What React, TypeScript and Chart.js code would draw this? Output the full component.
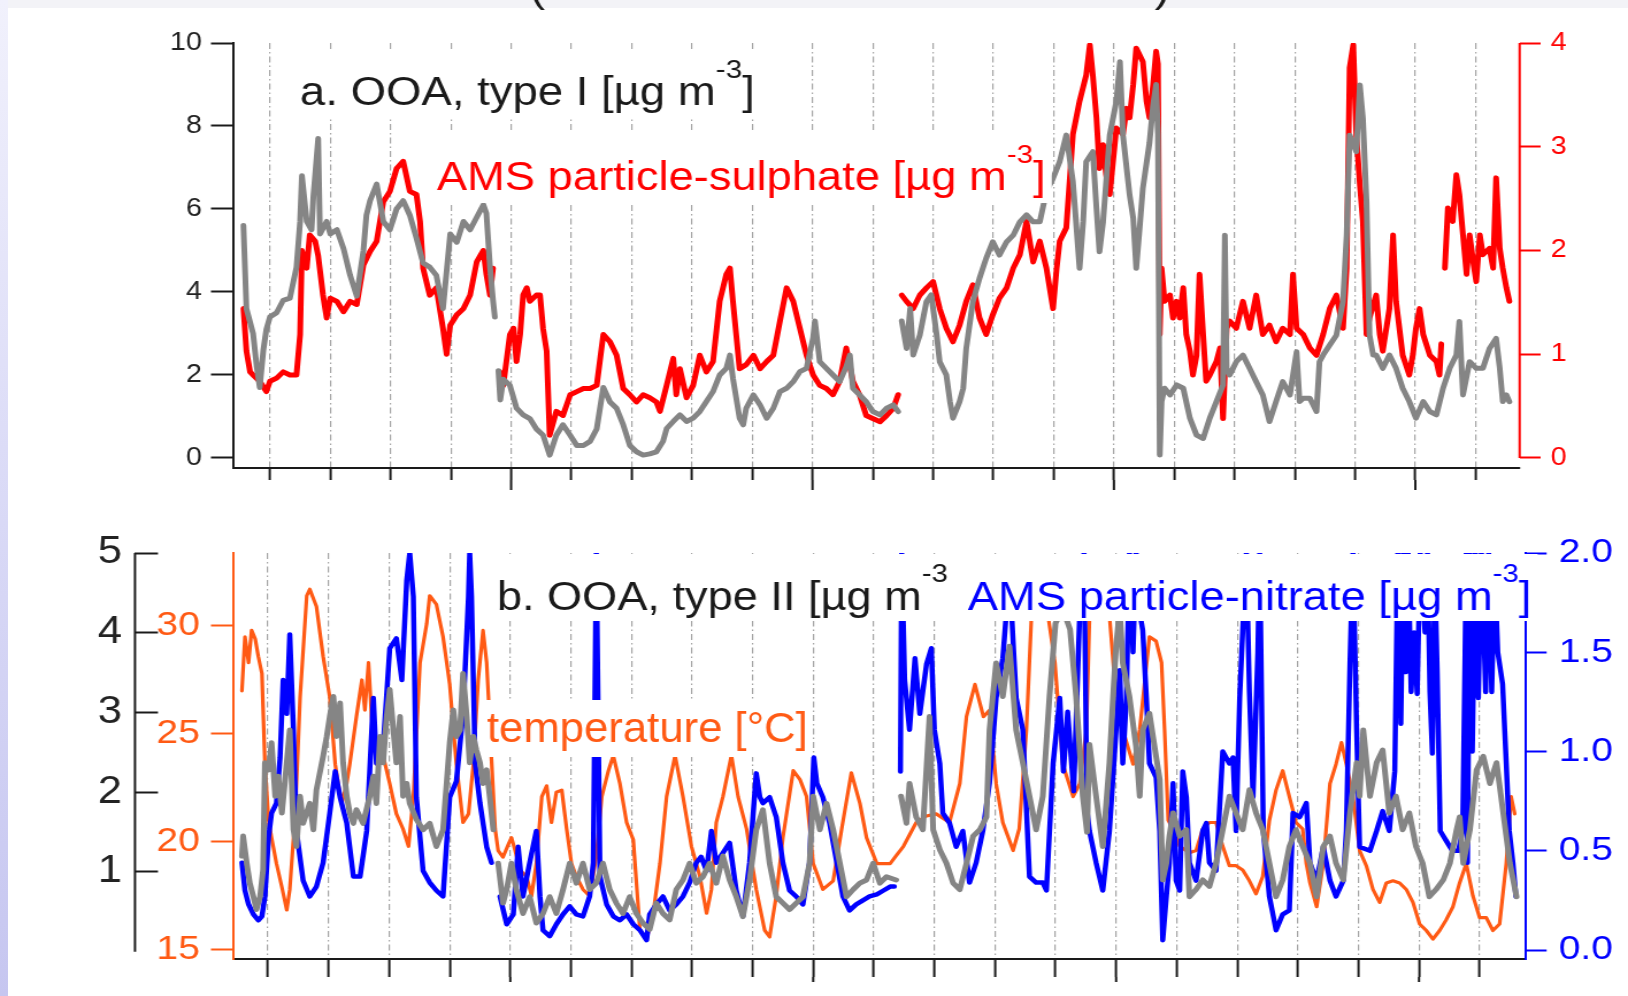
import React, { useEffect, useRef } from 'react';
import { Chart, registerables } from 'chart.js';

Chart.register(...registerables);

// ---------- page geometry (the reference figure is stretched horizontally) ----------
const PAGE_W = 1628;
const PAGE_H = 996;
const STRETCH = 1.15;
const CANVAS_W = Math.round(PAGE_W / STRETCH);
const px = (x: number) => x / STRETCH;

const FONT = "'Liberation Sans', Arial, Helvetica, sans-serif";
const GRAY = '#858585';
const RED = '#ff0000';
const BLUE = '#0000ff';
const ORANGE = '#ff5a14';
const INK = '#1a1a1a';

// ---------- ticks ----------
const DAY_TICKS = [0, 1, 2, 3, 4, 5, 6, 7, 8, 9, 10, 11, 12, 13, 14, 15, 16, 17, 18, 19, 20];
const LONG_DAY_TICKS = [4, 9, 14, 19];
const OOA1_TICKS = [0, 2, 4, 6, 8, 10];
const SULPH_TICKS = [0, 1, 2, 3, 4];
const OOA2_TICKS = [1, 2, 3, 4, 5];
const TEMP_TICKS = [15, 20, 25, 30];
const NITR_TICKS = [0, 0.5, 1, 1.5, 2];

// ---------- panel a: OOA type I [µg m-3] (day, value) ----------
const OOA1: [number, number | null][] = [
  [-0.44, 5.6], [-0.39, 3.6], [-0.28, 3.0], [-0.22, 2.2], [-0.17, 1.7], [-0.11, 2.6], [-0.06, 3.1], [0, 3.4],
  [0.11, 3.5], [0.22, 3.8], [0.33, 3.85], [0.44, 4.6], [0.5, 5.7], [0.53, 6.8], [0.61, 5.7], [0.69, 5.5],
  [0.72, 6.3], [0.8, 7.7], [0.83, 5.4], [0.94, 5.7], [1.0, 5.4], [1.11, 5.5], [1.22, 5.05], [1.33, 4.4],
  [1.44, 3.9], [1.55, 5.0], [1.6, 5.85], [1.66, 6.2], [1.77, 6.6], [1.88, 5.7], [1.99, 5.5], [2.1, 6.0],
  [2.21, 6.2], [2.32, 5.85], [2.43, 5.3], [2.54, 4.7], [2.65, 4.6], [2.76, 4.4], [2.87, 3.6], [2.99, 5.4],
  [3.1, 5.2], [3.21, 5.7], [3.32, 5.5], [3.43, 5.8], [3.54, 6.1], [3.59, 5.9], [3.65, 4.6], [3.7, 3.8],
  [3.73, 3.4], [3.76, null], [3.79, 2.1], [3.82, 1.4], [3.87, 1.9], [3.98, 1.75], [4.09, 1.2], [4.2, 1.04],
  [4.31, 0.95], [4.42, 0.7], [4.53, 0.55], [4.64, 0.07], [4.75, 0.55], [4.86, 0.8], [4.98, 0.55], [5.09, 0.3],
  [5.2, 0.3], [5.31, 0.4], [5.42, 0.7], [5.53, 1.7], [5.64, 1.35], [5.75, 1.2], [5.86, 0.8], [5.97, 0.3],
  [6.08, 0.15], [6.19, 0.07], [6.3, 0.1], [6.41, 0.15], [6.52, 0.4], [6.58, 0.71], [6.69, 0.88], [6.8, 1.04],
  [6.91, 0.88], [7.02, 0.96], [7.13, 1.12], [7.24, 1.36], [7.35, 1.6], [7.46, 2.0], [7.57, 2.16], [7.63, 2.48],
  [7.68, 1.92], [7.79, 0.96], [7.85, 0.8], [7.9, 1.2], [8.02, 1.52], [8.13, 1.28], [8.24, 0.96], [8.35, 1.2],
  [8.46, 1.6], [8.57, 1.68], [8.68, 1.84], [8.79, 2.08], [8.9, 2.16], [9.01, 2.9], [9.04, 3.3], [9.12, 2.32],
  [9.23, 2.16], [9.34, 2.0], [9.45, 1.84], [9.56, 2.2], [9.62, 2.48], [9.67, 1.68], [9.78, 1.52], [9.89, 1.36],
  [10.0, 1.12], [10.12, 1.04], [10.23, 1.2], [10.34, 1.28], [10.42, 1.12], [10.45, null], [10.48, 3.3], [10.56, 2.64],
  [10.62, 3.6], [10.67, 2.48], [10.78, 2.96], [10.89, 3.77], [10.97, 3.93], [11.06, 2.96], [11.11, 2.32], [11.22, 2.0],
  [11.28, 1.36], [11.33, 0.96], [11.44, 1.36], [11.5, 1.68], [11.55, 2.64], [11.66, 3.77], [11.77, 4.33], [11.88, 4.81],
  [11.99, 5.21], [12.1, 4.89], [12.22, 5.21], [12.33, 5.37], [12.44, 5.69], [12.55, 5.86], [12.66, 5.69], [12.77, 5.69],
  [12.88, 6.42], [12.99, 6.74], [13.1, 7.14], [13.21, 7.78], [13.32, 6.66], [13.43, 4.57], [13.49, 5.7], [13.54, 7.14],
  [13.65, 7.38], [13.71, 6.02], [13.76, 4.97], [13.82, 5.69], [13.93, 7.78], [14.04, 8.59], [14.1, 9.55], [14.15, 7.78],
  [14.26, 6.34], [14.32, 5.78], [14.37, 4.57], [14.43, 5.6], [14.48, 6.5], [14.59, 7.6], [14.65, 8.5], [14.7, 9.0],
  [14.73, 7.8], [14.76, 0.07], [14.79, 1.36], [14.84, 1.68], [14.93, 1.52], [15.04, 1.76], [15.15, 1.68], [15.26, 0.96],
  [15.37, 0.55], [15.48, 0.47], [15.59, 0.96], [15.7, 1.36], [15.81, 1.76], [15.84, 5.37], [15.87, 2.16], [15.92, 2.0],
  [16.03, 2.32], [16.14, 2.48], [16.25, 2.16], [16.36, 1.84], [16.47, 1.52], [16.58, 0.88], [16.69, 1.36], [16.8, 1.84],
  [16.92, 1.52], [17.03, 2.56], [17.08, 1.36], [17.14, 1.44], [17.25, 1.44], [17.36, 1.12], [17.41, 2.32], [17.47, 2.48],
  [17.58, 2.72], [17.69, 2.96], [17.8, 3.77], [17.86, 5.37], [17.91, 7.78], [18.02, 7.38], [18.08, 8.99], [18.13, 8.18],
  [18.19, 6.18], [18.24, 2.96], [18.3, 2.48], [18.35, 2.48], [18.46, 2.16], [18.57, 2.48], [18.68, 2.16], [18.79, 1.68],
  [18.9, 1.36], [19.01, 0.96], [19.13, 1.36], [19.24, 1.12], [19.35, 1.04], [19.46, 1.68], [19.57, 2.16], [19.68, 2.48],
  [19.73, 3.29], [19.79, 1.52], [19.9, 2.32], [20.01, 2.16], [20.12, 2.16], [20.23, 2.64], [20.34, 2.88], [20.4, 2.16],
  [20.45, 1.36], [20.51, 1.52], [20.56, 1.36],
];

// ---------- panel a: AMS particle-sulphate [µg m-3] ----------
const SULPH: [number, number | null][] = [
  [-0.44, 1.44], [-0.39, 1.03], [-0.33, 0.83], [-0.28, 0.8], [-0.17, 0.74], [-0.06, 0.64], [0, 0.74], [0.11, 0.77],
  [0.22, 0.83], [0.33, 0.8], [0.44, 0.8], [0.5, 1.19], [0.53, 2.0], [0.61, 1.83], [0.66, 2.15], [0.75, 2.09],
  [0.8, 1.95], [0.88, 1.57], [0.94, 1.35], [1.0, 1.54], [1.11, 1.51], [1.22, 1.41], [1.33, 1.51], [1.44, 1.48],
  [1.55, 1.86], [1.66, 1.99], [1.77, 2.09], [1.88, 2.47], [1.99, 2.57], [2.1, 2.79], [2.21, 2.86], [2.32, 2.57],
  [2.43, 2.54], [2.49, 2.28], [2.54, 1.83], [2.65, 1.57], [2.76, 1.64], [2.87, 1.25], [2.93, 1.0], [2.99, 1.28],
  [3.1, 1.38], [3.21, 1.44], [3.32, 1.57], [3.43, 1.89], [3.54, 2.0], [3.59, 1.77], [3.65, 1.57], [3.7, 1.83],
  [3.75, null], [3.81, 0.83], [3.87, 0.7], [3.98, 1.19], [4.04, 1.25], [4.09, 0.93], [4.15, 1.19], [4.2, 1.57],
  [4.26, 1.64], [4.31, 1.51], [4.42, 1.57], [4.48, 1.57], [4.53, 1.25], [4.59, 1.03], [4.64, 0.22], [4.75, 0.45],
  [4.86, 0.41], [4.98, 0.61], [5.09, 0.64], [5.2, 0.67], [5.31, 0.67], [5.42, 0.7], [5.53, 1.19], [5.64, 1.12],
  [5.75, 0.99], [5.86, 0.67], [5.97, 0.61], [6.08, 0.54], [6.19, 0.61], [6.3, 0.58], [6.41, 0.54], [6.47, 0.45],
  [6.58, 0.7], [6.69, 0.96], [6.74, 0.61], [6.8, 0.86], [6.91, 0.58], [7.02, 0.7], [7.13, 0.99], [7.24, 0.83],
  [7.35, 0.93], [7.46, 1.51], [7.57, 1.77], [7.63, 1.83], [7.68, 1.51], [7.79, 0.86], [7.9, 0.9], [8.02, 0.99],
  [8.13, 0.86], [8.24, 0.93], [8.35, 0.99], [8.46, 1.32], [8.57, 1.64], [8.68, 1.51], [8.79, 1.25], [8.9, 0.99],
  [9.01, 0.8], [9.12, 0.7], [9.23, 0.67], [9.34, 0.61], [9.45, 0.74], [9.56, 1.06], [9.67, 0.74], [9.78, 0.61],
  [9.89, 0.41], [10.0, 0.38], [10.12, 0.35], [10.23, 0.41], [10.34, 0.48], [10.42, 0.61], [10.45, null], [10.48, 1.57],
  [10.56, 1.51], [10.67, 1.44], [10.78, 1.57], [10.89, 1.64], [11.0, 1.7], [11.11, 1.44], [11.22, 1.25], [11.33, 1.12],
  [11.44, 1.28], [11.55, 1.51], [11.66, 1.67], [11.77, 1.35], [11.88, 1.19], [11.99, 1.38], [12.1, 1.54], [12.22, 1.64],
  [12.33, 1.83], [12.44, 1.96], [12.55, 2.28], [12.66, 1.89], [12.77, 2.09], [12.88, 1.83], [12.99, 1.44], [13.05, 1.83],
  [13.1, 2.09], [13.21, 2.22], [13.32, 3.12], [13.43, 3.44], [13.54, 3.69], [13.6, 3.98], [13.65, 3.69], [13.71, 3.28],
  [13.76, 2.79], [13.82, 3.02], [13.87, 2.73], [13.93, 2.54], [14.04, 3.18], [14.15, 3.12], [14.21, 3.37], [14.26, 3.28],
  [14.32, 3.6], [14.37, 3.95], [14.48, 3.82], [14.54, 3.44], [14.59, 3.28], [14.65, 3.6], [14.7, 3.92], [14.73, 3.8],
  [14.76, 1.19], [14.79, 1.83], [14.84, 1.51], [14.93, 1.57], [14.98, 1.35], [15.04, 1.51], [15.09, 1.35], [15.15, 1.64],
  [15.2, 1.19], [15.26, 1.03], [15.31, 0.8], [15.37, 0.99], [15.42, 1.77], [15.48, 1.19], [15.53, 0.74], [15.59, 0.8],
  [15.7, 0.93], [15.76, 1.06], [15.81, 0.38], [15.87, 1.25], [15.92, 1.32], [16.03, 1.25], [16.14, 1.51], [16.25, 1.25],
  [16.36, 1.57], [16.47, 1.19], [16.58, 1.28], [16.69, 1.12], [16.8, 1.25], [16.92, 1.19], [16.97, 1.77], [17.03, 1.25],
  [17.14, 1.19], [17.25, 1.06], [17.36, 0.99], [17.47, 1.19], [17.58, 1.44], [17.69, 1.57], [17.8, 1.25], [17.86, 1.83],
  [17.91, 3.76], [17.97, 3.98], [18.02, 3.12], [18.08, 2.63], [18.13, 2.28], [18.19, 1.19], [18.24, 1.35], [18.35, 1.57],
  [18.41, 1.19], [18.46, 1.03], [18.57, 1.44], [18.63, 2.15], [18.68, 1.51], [18.79, 0.99], [18.9, 0.8], [18.96, 1.0],
  [19.01, 1.25], [19.07, 1.44], [19.13, 1.19], [19.24, 0.99], [19.35, 0.93], [19.4, 0.8], [19.43, 1.1], [19.45, null],
  [19.49, 1.83], [19.54, 2.41], [19.62, 2.28], [19.68, 2.73], [19.73, 2.54], [19.79, 2.15], [19.85, 1.77], [19.9, 2.15],
  [19.96, 1.89], [20.01, 1.7], [20.07, 2.15], [20.12, 1.96], [20.23, 2.02], [20.29, 1.83], [20.34, 2.7], [20.4, 2.02],
  [20.45, 1.83], [20.51, 1.64], [20.56, 1.51],
];

// ---------- panel b: OOA type II [µg m-3] ----------
const OOA2: [number, number | null][] = [
  [-0.43, 1.2], [-0.41, 1.45], [-0.35, 1.11], [-0.3, 0.86], [-0.24, 0.69], [-0.19, 0.53], [-0.13, 0.69], [-0.08, 1.03],
  [-0.05, 2.37], [0.01, 2.28], [0.06, 2.62], [0.12, 1.95], [0.17, 2.2], [0.23, 1.74], [0.31, 2.37], [0.36, 2.78],
  [0.42, 1.53], [0.47, 1.32], [0.53, 1.95], [0.58, 1.61], [0.69, 1.86], [0.75, 1.53], [0.8, 2.03], [0.91, 2.45],
  [0.97, 2.7], [1.02, 2.95], [1.08, 3.2], [1.13, 2.7], [1.19, 3.12], [1.24, 2.37], [1.3, 1.95], [1.35, 1.74],
  [1.41, 1.61], [1.46, 1.78], [1.57, 1.61], [1.68, 1.95], [1.74, 2.2], [1.79, 1.86], [1.85, 2.7], [1.9, 2.37],
  [1.96, 2.95], [2.01, 3.29], [2.07, 2.78], [2.12, 2.37], [2.18, 2.95], [2.23, 1.95], [2.29, 2.11], [2.34, 1.86],
  [2.45, 1.66], [2.56, 1.53], [2.67, 1.61], [2.78, 1.32], [2.89, 1.53], [3.0, 2.62], [3.06, 3.03], [3.11, 2.7],
  [3.17, 2.78], [3.22, 3.49], [3.28, 2.95], [3.33, 2.37], [3.39, 2.7], [3.44, 2.53], [3.5, 2.37], [3.55, 2.11],
  [3.61, 2.28], [3.66, 1.95], [3.72, 1.53], [3.76, null], [3.8, 1.11], [3.88, 0.61], [3.94, 0.78], [4.02, 1.11],
  [4.1, 0.78], [4.21, 0.48], [4.32, 0.69], [4.43, 0.36], [4.54, 0.48], [4.65, 0.69], [4.76, 0.48], [4.87, 0.78],
  [4.98, 1.11], [5.09, 0.86], [5.2, 1.11], [5.31, 0.78], [5.42, 0.86], [5.53, 1.11], [5.64, 0.78], [5.75, 0.61],
  [5.86, 0.48], [5.97, 0.69], [6.08, 0.48], [6.19, 0.36], [6.3, 0.28], [6.41, 0.61], [6.52, 0.48], [6.63, 0.4],
  [6.74, 0.78], [6.85, 0.9], [6.96, 1.11], [7.07, 0.86], [7.18, 0.94], [7.29, 1.11], [7.4, 0.86], [7.51, 1.2],
  [7.62, 0.9], [7.73, 0.69], [7.84, 0.44], [7.95, 0.9], [8.06, 1.53], [8.17, 1.78], [8.28, 1.11], [8.39, 0.69],
  [8.5, 0.61], [8.61, 0.53], [8.72, 0.61], [8.83, 0.69], [8.94, 1.11], [9.0, 1.95], [9.11, 1.53], [9.22, 1.86],
  [9.33, 1.53], [9.44, 1.11], [9.55, 0.69], [9.66, 0.78], [9.77, 0.86], [9.88, 0.9], [9.99, 1.11], [10.1, 0.86],
  [10.21, 0.94], [10.37, 0.9], [10.41, null], [10.45, 1.95], [10.54, 1.61], [10.59, 2.11], [10.7, 1.69], [10.81, 1.53],
  [10.92, 2.95], [10.98, 1.53], [11.09, 1.28], [11.2, 1.11], [11.31, 0.86], [11.42, 0.78], [11.53, 1.11], [11.64, 1.45],
  [11.75, 1.53], [11.86, 1.69], [11.91, 2.78], [12.02, 3.62], [12.13, 3.2], [12.24, 3.83], [12.35, 2.78], [12.46, 2.37],
  [12.57, 1.95], [12.68, 1.53], [12.79, 1.95], [12.9, 3.2], [13.0, 4.12], [13.12, 4.3], [13.24, 4.04], [13.34, 3.2],
  [13.45, 1.95], [13.52, 1.5], [13.56, 2.6], [13.67, 1.95], [13.78, 1.32], [13.89, 2.37], [13.95, 3.2], [14.0, 3.83],
  [14.06, 4.3], [14.11, 3.62], [14.22, 3.2], [14.33, 2.57], [14.39, 1.95], [14.44, 2.78], [14.55, 2.99], [14.66, 2.45],
  [14.72, 2.16], [14.77, 0.9], [14.83, 1.11], [14.88, 1.45], [14.94, 1.74], [15.05, 1.45], [15.16, 1.53], [15.21, 0.69],
  [15.32, 0.78], [15.43, 0.9], [15.54, 0.82], [15.65, 1.11], [15.76, 1.53], [15.87, 1.95], [15.98, 1.74], [16.09, 1.53],
  [16.2, 2.03], [16.31, 1.74], [16.42, 1.53], [16.53, 1.11], [16.64, 0.69], [16.75, 0.9], [16.86, 1.32], [16.97, 1.53],
  [17.08, 1.32], [17.2, 1.11], [17.31, 0.69], [17.42, 1.32], [17.53, 1.45], [17.63, 1.11], [17.75, 0.9], [17.86, 1.74],
  [17.97, 2.37], [18.02, 1.95], [18.08, 2.78], [18.19, 1.95], [18.3, 2.37], [18.4, 2.53], [18.51, 1.74], [18.62, 1.95],
  [18.73, 1.53], [18.84, 1.74], [18.95, 1.32], [19.06, 1.11], [19.17, 0.69], [19.28, 0.78], [19.4, 0.9], [19.51, 1.11],
  [19.62, 1.53], [19.67, 1.69], [19.73, 1.11], [19.84, 1.53], [19.95, 2.28], [20.06, 2.45], [20.17, 2.11], [20.28, 2.37],
  [20.39, 1.74], [20.5, 1.11], [20.61, 0.69],
];

// ---------- panel b: AMS particle-nitrate [µg m-3] ----------
const NITR: [number, number | null][] = [
  [-0.43, 0.44], [-0.38, 0.3], [-0.32, 0.23], [-0.24, 0.18], [-0.16, 0.15], [-0.1, 0.17], [-0.05, 0.27], [0.01, 0.57],
  [0.06, 0.69], [0.14, 0.74], [0.2, 0.97], [0.25, 1.36], [0.31, 1.19], [0.36, 1.59], [0.42, 1.11], [0.47, 0.6],
  [0.58, 0.35], [0.69, 0.27], [0.8, 0.32], [0.91, 0.44], [1.02, 0.69], [1.11, 0.9], [1.19, 0.77], [1.3, 0.64],
  [1.41, 0.37], [1.52, 0.37], [1.63, 0.6], [1.74, 1.27], [1.79, 0.94], [1.9, 1.02], [2.01, 1.52], [2.12, 1.57],
  [2.21, 1.36], [2.29, 1.86], [2.34, 2.0], [2.4, 1.78], [2.45, 0.77], [2.56, 0.4], [2.67, 0.34], [2.78, 0.3],
  [2.89, 0.27], [3.0, 0.77], [3.11, 0.85], [3.22, 1.19], [3.31, 1.78], [3.33, 2.0], [3.36, 1.78], [3.42, 0.94],
  [3.5, 0.74], [3.61, 0.52], [3.69, 0.44], [3.76, null], [3.83, 0.27], [3.94, 0.13], [4.05, 0.18], [4.13, 0.52],
  [4.21, 0.27], [4.32, 0.44], [4.43, 0.6], [4.49, 0.27], [4.54, 0.1], [4.65, 0.07], [4.76, 0.13], [4.87, 0.18],
  [4.98, 0.22], [5.09, 0.18], [5.2, 0.17], [5.31, 0.27], [5.37, 0.44], [5.42, 2.0], [5.48, 0.37], [5.59, 0.23],
  [5.7, 0.17], [5.81, 0.15], [5.92, 0.18], [6.03, 0.13], [6.14, 0.1], [6.25, 0.05], [6.3, 0.18], [6.41, 0.23],
  [6.52, 0.27], [6.63, 0.2], [6.74, 0.23], [6.85, 0.27], [6.96, 0.34], [7.07, 0.44], [7.15, 0.47], [7.24, 0.4],
  [7.32, 0.6], [7.4, 0.44], [7.51, 0.49], [7.62, 0.54], [7.73, 0.3], [7.84, 0.17], [7.95, 0.44], [8.01, 0.69],
  [8.06, 0.89], [8.12, 0.77], [8.17, 0.74], [8.28, 0.77], [8.39, 0.67], [8.5, 0.44], [8.61, 0.3], [8.72, 0.27],
  [8.83, 0.23], [8.94, 0.44], [9.01, 0.97], [9.06, 0.84], [9.16, 0.77], [9.27, 0.64], [9.39, 0.44], [9.49, 0.27],
  [9.6, 0.2], [9.71, 0.23], [9.82, 0.25], [9.93, 0.27], [10.05, 0.28], [10.16, 0.3], [10.27, 0.32], [10.34, 0.32],
  [10.4, null], [10.44, 0.9], [10.46, 2.0], [10.51, 1.36], [10.59, 1.11], [10.68, 1.47], [10.76, 1.19], [10.87, 1.44],
  [10.95, 1.52], [11.0, 1.11], [11.09, 0.94], [11.14, 0.69], [11.25, 0.64], [11.36, 0.52], [11.47, 0.6], [11.58, 0.34],
  [11.69, 0.44], [11.8, 0.6], [11.91, 0.84], [12.02, 1.27], [12.13, 1.47], [12.24, 1.9], [12.35, 1.27], [12.46, 1.11],
  [12.57, 0.37], [12.68, 0.34], [12.79, 0.34], [12.85, 0.3], [12.96, 0.94], [13.07, 1.27], [13.13, 0.9], [13.2, 1.2],
  [13.3, 0.8], [13.4, 1.7], [13.47, 2.0], [13.52, 0.7], [13.56, 0.6], [13.67, 0.44], [13.78, 0.3], [13.89, 0.6],
  [14.0, 1.11], [14.06, 1.41], [14.11, 0.94], [14.17, 1.27], [14.22, 2.0], [14.28, 1.5], [14.33, 2.0], [14.39, 1.7],
  [14.44, 1.61], [14.5, 1.27], [14.55, 0.94], [14.66, 0.87], [14.72, 0.6], [14.77, 0.05], [14.83, 0.27], [14.88, 0.44],
  [14.94, 0.84], [14.99, 0.35], [15.05, 0.3], [15.1, 0.9], [15.16, 0.77], [15.21, 0.44], [15.32, 0.35], [15.43, 0.6],
  [15.49, 0.64], [15.54, 0.44], [15.65, 0.4], [15.76, 1.0], [15.87, 0.94], [15.93, 0.97], [15.98, 0.6], [16.04, 1.27],
  [16.09, 1.61], [16.15, 2.0], [16.2, 1.3], [16.26, 0.77], [16.34, 1.5], [16.37, 2.0], [16.43, 0.6], [16.53, 0.27],
  [16.64, 0.1], [16.75, 0.18], [16.86, 0.2], [16.92, 0.69], [17.03, 0.67], [17.14, 0.74], [17.2, 0.44], [17.31, 0.35],
  [17.42, 0.52], [17.53, 0.35], [17.63, 0.27], [17.75, 0.35], [17.8, 0.6], [17.86, 1.44], [17.91, 2.0], [17.97, 1.11],
  [18.02, 0.52], [18.19, 0.5], [18.3, 0.6], [18.4, 0.7], [18.51, 0.6], [18.6, 0.9], [18.65, 2.0], [18.7, 1.14],
  [18.74, 2.0], [18.78, 1.4], [18.82, 2.0], [18.87, 1.3], [18.92, 1.6], [18.97, 1.29], [19.02, 2.0], [19.1, 1.6],
  [19.14, 2.0], [19.18, 1.3], [19.22, 0.99], [19.26, 1.9], [19.3, 1.4], [19.35, 0.6], [19.45, 0.55], [19.55, 0.5],
  [19.65, 0.5], [19.72, 0.6], [19.76, 1.5], [19.78, 2.0], [19.8, 0.44], [19.84, 2.0], [19.88, 1.0], [19.93, 2.0],
  [19.98, 1.27], [20.03, 2.0], [20.1, 1.3], [20.15, 2.0], [20.2, 1.3], [20.25, 1.9], [20.3, 1.5], [20.38, 1.34],
  [20.44, 0.94], [20.49, 0.6], [20.55, 0.44], [20.6, 0.27],
];

// ---------- panel b: temperature [°C] ----------
const TEMP: [number, number | null][] = [
  [-0.43, 27.0], [-0.38, 29.5], [-0.32, 28.3], [-0.27, 29.8], [-0.21, 29.4], [-0.16, 28.6], [-0.1, 27.8], [-0.05, 23.6],
  [0.01, 21.0], [0.06, 20.2], [0.14, 19.0], [0.23, 17.9], [0.31, 16.85], [0.36, 17.8], [0.45, 21.3], [0.53, 26.7],
  [0.64, 31.4], [0.69, 31.7], [0.8, 30.9], [0.91, 28.6], [1.02, 26.7], [1.11, 23.6], [1.16, 22.7], [1.22, 21.8],
  [1.3, 22.7], [1.35, 23.6], [1.46, 25.8], [1.55, 27.5], [1.6, 26.1], [1.66, 28.3], [1.71, 25.8], [1.79, 23.6],
  [1.9, 24.0], [2.01, 22.7], [2.12, 21.3], [2.23, 20.6], [2.32, 19.8], [2.4, 22.1], [2.51, 28.3], [2.62, 30.1],
  [2.67, 31.4], [2.78, 31.0], [2.89, 29.5], [3.0, 27.3], [3.11, 23.6], [3.22, 20.9], [3.31, 21.3], [3.39, 23.6],
  [3.47, 27.5], [3.55, 29.8], [3.61, 28.3], [3.64, 26.7], [3.69, 23.8], [3.75, 20.6], [3.8, 19.6], [3.88, 19.3],
  [3.97, 19.9], [4.02, 20.2], [4.08, 19.6], [4.16, 18.7], [4.27, 18.4], [4.35, 17.5], [4.43, 19.0], [4.52, 22.1],
  [4.6, 22.6], [4.68, 20.9], [4.76, 22.3], [4.85, 22.4], [4.93, 20.6], [5.01, 19.0], [5.09, 18.4], [5.2, 17.8],
  [5.31, 17.5], [5.42, 19.3], [5.51, 22.1], [5.62, 23.3], [5.7, 24.0], [5.81, 22.7], [5.92, 20.9], [6.03, 20.1],
  [6.14, 15.9], [6.25, 15.5], [6.36, 16.7], [6.47, 19.0], [6.58, 22.1], [6.72, 24.0], [6.85, 22.1], [6.99, 19.8],
  [7.13, 18.4], [7.24, 16.7], [7.32, 17.8], [7.4, 20.9], [7.51, 22.1], [7.65, 24.0], [7.76, 22.1], [7.9, 20.6],
  [8.06, 17.8], [8.2, 15.9], [8.28, 15.6], [8.39, 17.5], [8.5, 20.2], [8.67, 23.3], [8.78, 22.9], [8.89, 22.1],
  [9.0, 19.0], [9.16, 17.8], [9.33, 18.2], [9.47, 20.6], [9.63, 23.2], [9.77, 21.8], [9.88, 20.2], [10.05, 19.0],
  [10.27, 19.0], [10.38, 19.4], [10.49, 19.8], [10.7, 20.9], [10.87, 21.2], [11.03, 21.3], [11.25, 20.9], [11.42, 22.7],
  [11.53, 25.8], [11.67, 27.3], [11.81, 25.8], [11.91, 26.1], [12.02, 22.7], [12.13, 20.9], [12.3, 19.6], [12.4, 20.6],
  [12.52, 25.2], [12.6, 30.3], [12.72, 32.5], [12.85, 31.0], [12.99, 28.3], [13.12, 23.6], [13.29, 22.1], [13.4, 22.7],
  [13.51, 25.2], [13.56, 30.3], [13.7, 32.0], [13.89, 30.5], [13.97, 27.7], [14.11, 25.2], [14.28, 23.6], [14.39, 25.2],
  [14.55, 29.5], [14.66, 29.3], [14.75, 28.3], [14.8, 25.2], [14.86, 21.0], [14.94, 20.6], [15.05, 19.8], [15.21, 19.5],
  [15.32, 19.6], [15.43, 20.6], [15.54, 20.9], [15.65, 20.9], [15.76, 19.8], [15.87, 18.9], [15.98, 18.9], [16.09, 18.7],
  [16.2, 18.2], [16.31, 17.6], [16.42, 18.4], [16.53, 21.0], [16.64, 22.4], [16.75, 23.3], [16.86, 22.1], [16.97, 20.9],
  [17.08, 20.6], [17.14, 19.0], [17.2, 18.1], [17.31, 17.0], [17.42, 19.0], [17.53, 22.7], [17.63, 23.6], [17.72, 24.6],
  [17.8, 23.6], [17.91, 22.1], [18.02, 19.6], [18.13, 18.9], [18.24, 17.8], [18.35, 17.2], [18.46, 18.1], [18.57, 18.2],
  [18.68, 18.1], [18.79, 17.8], [18.9, 17.2], [19.01, 16.2], [19.12, 15.9], [19.23, 15.5], [19.34, 15.9], [19.45, 16.4],
  [19.56, 17.0], [19.67, 18.1], [19.78, 19.0], [19.89, 17.5], [20.0, 16.5], [20.11, 16.5], [20.22, 15.9], [20.33, 16.2],
  [20.44, 19.0], [20.52, 22.1], [20.58, 21.3],
];

const toXY = (pairs: [number, number | null][]) => pairs.map(([x, y]) => ({ x, y }));

type Piece = { t: string; size: number; color: string; dy?: number };

// draws a run of text pieces starting at a page x; the first piece is fitted to end at xEnd
function drawRun(ctx: CanvasRenderingContext2D, x0: number, xEnd: number, baseline: number, pieces: Piece[]) {
  ctx.save();
  ctx.textAlign = 'left';
  ctx.textBaseline = 'alphabetic';
  ctx.font = `${pieces[0].size}px ${FONT}`;
  const w = ctx.measureText(pieces[0].t).width;
  const sx = (px(xEnd) - px(x0)) / w;
  let x = px(x0);
  for (const p of pieces) {
    ctx.font = `${p.size}px ${FONT}`;
    ctx.fillStyle = p.color;
    ctx.save();
    ctx.translate(x, baseline + (p.dy || 0));
    ctx.scale(sx, 1);
    ctx.fillText(p.t, 0, 0);
    ctx.restore();
    x += ctx.measureText(p.t).width * sx;
  }
  ctx.restore();
}

function whiteBox(ctx: CanvasRenderingContext2D, x1: number, y1: number, x2: number, y2: number) {
  ctx.save();
  ctx.fillStyle = '#ffffff';
  ctx.fillRect(px(x1), y1, px(x2) - px(x1), y2 - y1);
  ctx.restore();
}

function longTicks(chart: any, from: number, to: number) {
  const ctx = chart.ctx as CanvasRenderingContext2D;
  const xs = chart.scales.x;
  ctx.save();
  ctx.strokeStyle = INK;
  ctx.lineWidth = 2;
  for (const d of LONG_DAY_TICKS) {
    const x = xs.getPixelForValue(d);
    ctx.beginPath();
    ctx.moveTo(x, chart.chartArea.bottom + from);
    ctx.lineTo(x, chart.chartArea.bottom + to);
    ctx.stroke();
  }
  ctx.restore();
}

// fixes an axis' width and removes the end padding chart.js adds for its labels
const fixWidth = (w: number) => (s: any) => {
  s.width = w;
  s.paddingTop = 0;
  s.paddingBottom = 0;
};

const xAxis = (min: number, max: number, tickLen: number) => ({
  type: 'linear' as const,
  position: 'bottom' as const,
  min,
  max,
  afterFit: (s: any) => { s.height = 30; s.paddingLeft = 0; s.paddingRight = 0; },
  afterBuildTicks: (s: any) => { s.ticks = DAY_TICKS.map((v) => ({ value: v })); },
  ticks: { display: false },
  grid: { color: '#a4a4a4', lineWidth: 1.2, tickLength: tickLen, tickColor: INK, tickWidth: 2, drawOnChartArea: true },
  border: { color: INK, width: 2, dash: [6, 3, 1.5, 3] },
});

const lineDs = (label: string, data: any, axis: string, color: string, width: number) => ({
  label,
  data,
  yAxisID: axis,
  borderColor: color,
  backgroundColor: color,
  borderWidth: width,
  pointRadius: 0,
  tension: 0,
  spanGaps: false,
  borderJoinStyle: 'round' as const,
  borderCapStyle: 'round' as const,
  clip: 0,
});

export default function App() {
  const topRef = useRef<HTMLCanvasElement | null>(null);
  const botRef = useRef<HTMLCanvasElement | null>(null);

  useEffect(() => {
    if (!topRef.current || !botRef.current) return;

    const topDecor = {
      id: 'topDecor',
      afterDraw(chart: any) {
        const ctx = chart.ctx as CanvasRenderingContext2D;
        const r = chart.scales.y2;
        ctx.save();
        ctx.strokeStyle = RED;
        ctx.lineWidth = 2;
        ctx.beginPath();
        ctx.moveTo(r.left, r.getPixelForValue(4));
        ctx.lineTo(r.left, r.getPixelForValue(0));
        ctx.stroke();
        ctx.restore();
        longTicks(chart, 12, 22);
        whiteBox(ctx, 285, 52, 762, 117);
        drawRun(ctx, 300, 716, 105, [
          { t: 'a. OOA, type I [µg m', size: 40, color: INK },
          { t: '-3', size: 26, color: INK, dy: -27 },
          { t: ']', size: 40, color: INK },
        ]);
        whiteBox(ctx, 425, 133, 1052, 203);
        drawRun(ctx, 437, 1007, 190, [
          { t: 'AMS particle-sulphate [µg m', size: 40, color: RED },
          { t: '-3', size: 26, color: RED, dy: -27 },
          { t: ']', size: 40, color: RED },
        ]);
        ctx.save();
        ctx.fillStyle = INK;
        ctx.font = `40px ${FONT}`;
        ctx.textBaseline = 'alphabetic';
        ctx.fillText('(', px(530), 2);
        ctx.fillText(')', px(1155), 2);
        ctx.restore();
      },
    };

    const botDecor = {
      id: 'botDecor',
      afterDraw(chart: any) {
        const ctx = chart.ctx as CanvasRenderingContext2D;
        const b = chart.scales.yB;
        ctx.save();
        ctx.strokeStyle = INK;
        ctx.lineWidth = 2;
        ctx.beginPath();
        ctx.moveTo(b.right, b.getPixelForValue(5));
        ctx.lineTo(b.right, b.getPixelForValue(0));
        ctx.stroke();
        ctx.restore();
        longTicks(chart, 18, 23);
        whiteBox(ctx, 484, 700, 812, 757);
        drawRun(ctx, 487, 808, 742, [{ t: 'temperature [°C]', size: 42, color: ORANGE }]);
        whiteBox(ctx, 481, 554, 1538, 621);
        drawRun(ctx, 497, 922, 610, [
          { t: 'b. OOA, type II [µg m', size: 40, color: INK },
          { t: '-3', size: 26, color: INK, dy: -28 },
        ]);
        drawRun(ctx, 968, 1493, 610, [
          { t: 'AMS particle-nitrate [µg m', size: 40, color: BLUE },
          { t: '-3', size: 26, color: BLUE, dy: -28 },
          { t: ']', size: 40, color: BLUE },
        ]);
      },
    };

    const common = {
      responsive: false,
      animation: false as const,
      devicePixelRatio: 1,
      events: [] as any[],
      plugins: { legend: { display: false }, tooltip: { enabled: false }, title: { display: false } },
    };

    const top = new Chart(topRef.current, {
      type: 'line',
      data: {
        datasets: [
          lineDs('OOA, type I', toXY(OOA1), 'y', GRAY, 5),
          lineDs('AMS particle-sulphate', toXY(SULPH), 'y2', RED, 5),
        ],
      },
      options: {
        ...common,
        layout: { padding: { left: 0, right: 0, top: 43, bottom: PAGE_H - 468 - 30 } },
        scales: {
          x: xAxis(-0.614, 20.73, 12),
          y: {
            type: 'linear',
            position: 'left',
            min: -0.241,
            max: 10,
            afterFit: fixWidth(px(233)),
            afterBuildTicks: (s: any) => { s.ticks = OOA1_TICKS.map((v) => ({ value: v })); },
            ticks: { color: '#222', font: { family: FONT, size: 25 }, padding: px(9) },
            grid: { drawOnChartArea: false, tickLength: px(22), tickColor: INK, tickWidth: 2 },
            border: { color: INK, width: 2 },
          },
          y2: {
            type: 'linear',
            position: 'right',
            min: -0.0964,
            max: 4,
            afterFit: fixWidth(CANVAS_W - px(1520)),
            afterBuildTicks: (s: any) => { s.ticks = SULPH_TICKS.map((v) => ({ value: v })); },
            ticks: { color: RED, font: { family: FONT, size: 25 }, padding: px(10) },
            grid: { drawOnChartArea: false, tickLength: px(21), tickColor: RED, tickWidth: 2 },
            border: { display: false },
          },
        },
      } as any,
      plugins: [topDecor],
    });

    const bot = new Chart(botRef.current, {
      type: 'line',
      data: {
        datasets: [
          lineDs('OOA, type II', toXY(OOA2), 'yB', GRAY, 5),
          lineDs('AMS particle-nitrate', toXY(NITR), 'yN', BLUE, 4.5),
          lineDs('temperature', toXY(TEMP), 'yT', ORANGE, 3.2),
        ],
      },
      options: {
        ...common,
        layout: { padding: { left: 0, right: 0, top: 553, bottom: PAGE_H - 959 - 30 } },
        scales: {
          x: xAxis(-0.578, 20.76, 18),
          yT: {
            type: 'linear',
            position: 'left',
            weight: 0,
            min: 14.58,
            max: 33.38,
            afterFit: fixWidth(px(233 - 135)),
            afterBuildTicks: (s: any) => { s.ticks = TEMP_TICKS.map((v) => ({ value: v })); },
            ticks: { color: ORANGE, font: { family: FONT, size: 34 }, padding: px(11) },
            grid: { drawOnChartArea: false, tickLength: px(22), tickColor: ORANGE, tickWidth: 2 },
            border: { color: ORANGE, width: 2 },
          },
          yB: {
            type: 'linear',
            position: 'left',
            weight: 1,
            min: -0.091,
            max: 5,
            afterFit: fixWidth(px(135)),
            afterBuildTicks: (s: any) => { s.ticks = OOA2_TICKS.map((v) => ({ value: v })); },
            ticks: { color: '#222', font: { family: FONT, size: 38 }, padding: px(13) + px(23) },
            grid: { drawOnChartArea: false, tickLength: -px(23), tickColor: INK, tickWidth: 2 },
            border: { display: false },
          },
          yN: {
            type: 'linear',
            position: 'right',
            min: -0.045,
            max: 2.0,
            afterFit: fixWidth(CANVAS_W - px(1526)),
            afterBuildTicks: (s: any) => { s.ticks = NITR_TICKS.map((v) => ({ value: v })); },
            ticks: {
              color: BLUE,
              font: { family: FONT, size: 34 },
              padding: px(12),
              callback: (v: any) => Number(v).toFixed(1),
            },
            grid: { drawOnChartArea: false, tickLength: px(21), tickColor: BLUE, tickWidth: 2 },
            border: { color: BLUE, width: 2 },
          },
        },
      } as any,
      plugins: [botDecor],
    });

    return () => {
      top.destroy();
      bot.destroy();
    };
  }, []);

  const canvasStyle: React.CSSProperties = {
    position: 'absolute',
    left: 0,
    top: 0,
    width: `${PAGE_W}px`,
    height: `${PAGE_H}px`,
  };

  return (
    <div style={{ position: 'absolute', left: 0, top: 0, width: PAGE_W, height: PAGE_H, background: '#ffffff', overflow: 'hidden' }}>
      <div style={{ position: 'absolute', left: 0, top: 0, width: PAGE_W, height: 8, background: '#f3f3f7' }} />
      <div
        style={{
          position: 'absolute',
          left: 0,
          top: 0,
          width: 8,
          height: PAGE_H,
          background: 'linear-gradient(to bottom, #f1f1fc 0%, #dcdcf7 45%, #c6c6f0 100%)',
        }}
      />
      <canvas ref={botRef} width={CANVAS_W} height={PAGE_H} style={canvasStyle} />
      <canvas ref={topRef} width={CANVAS_W} height={PAGE_H} style={canvasStyle} />
    </div>
  );
}
